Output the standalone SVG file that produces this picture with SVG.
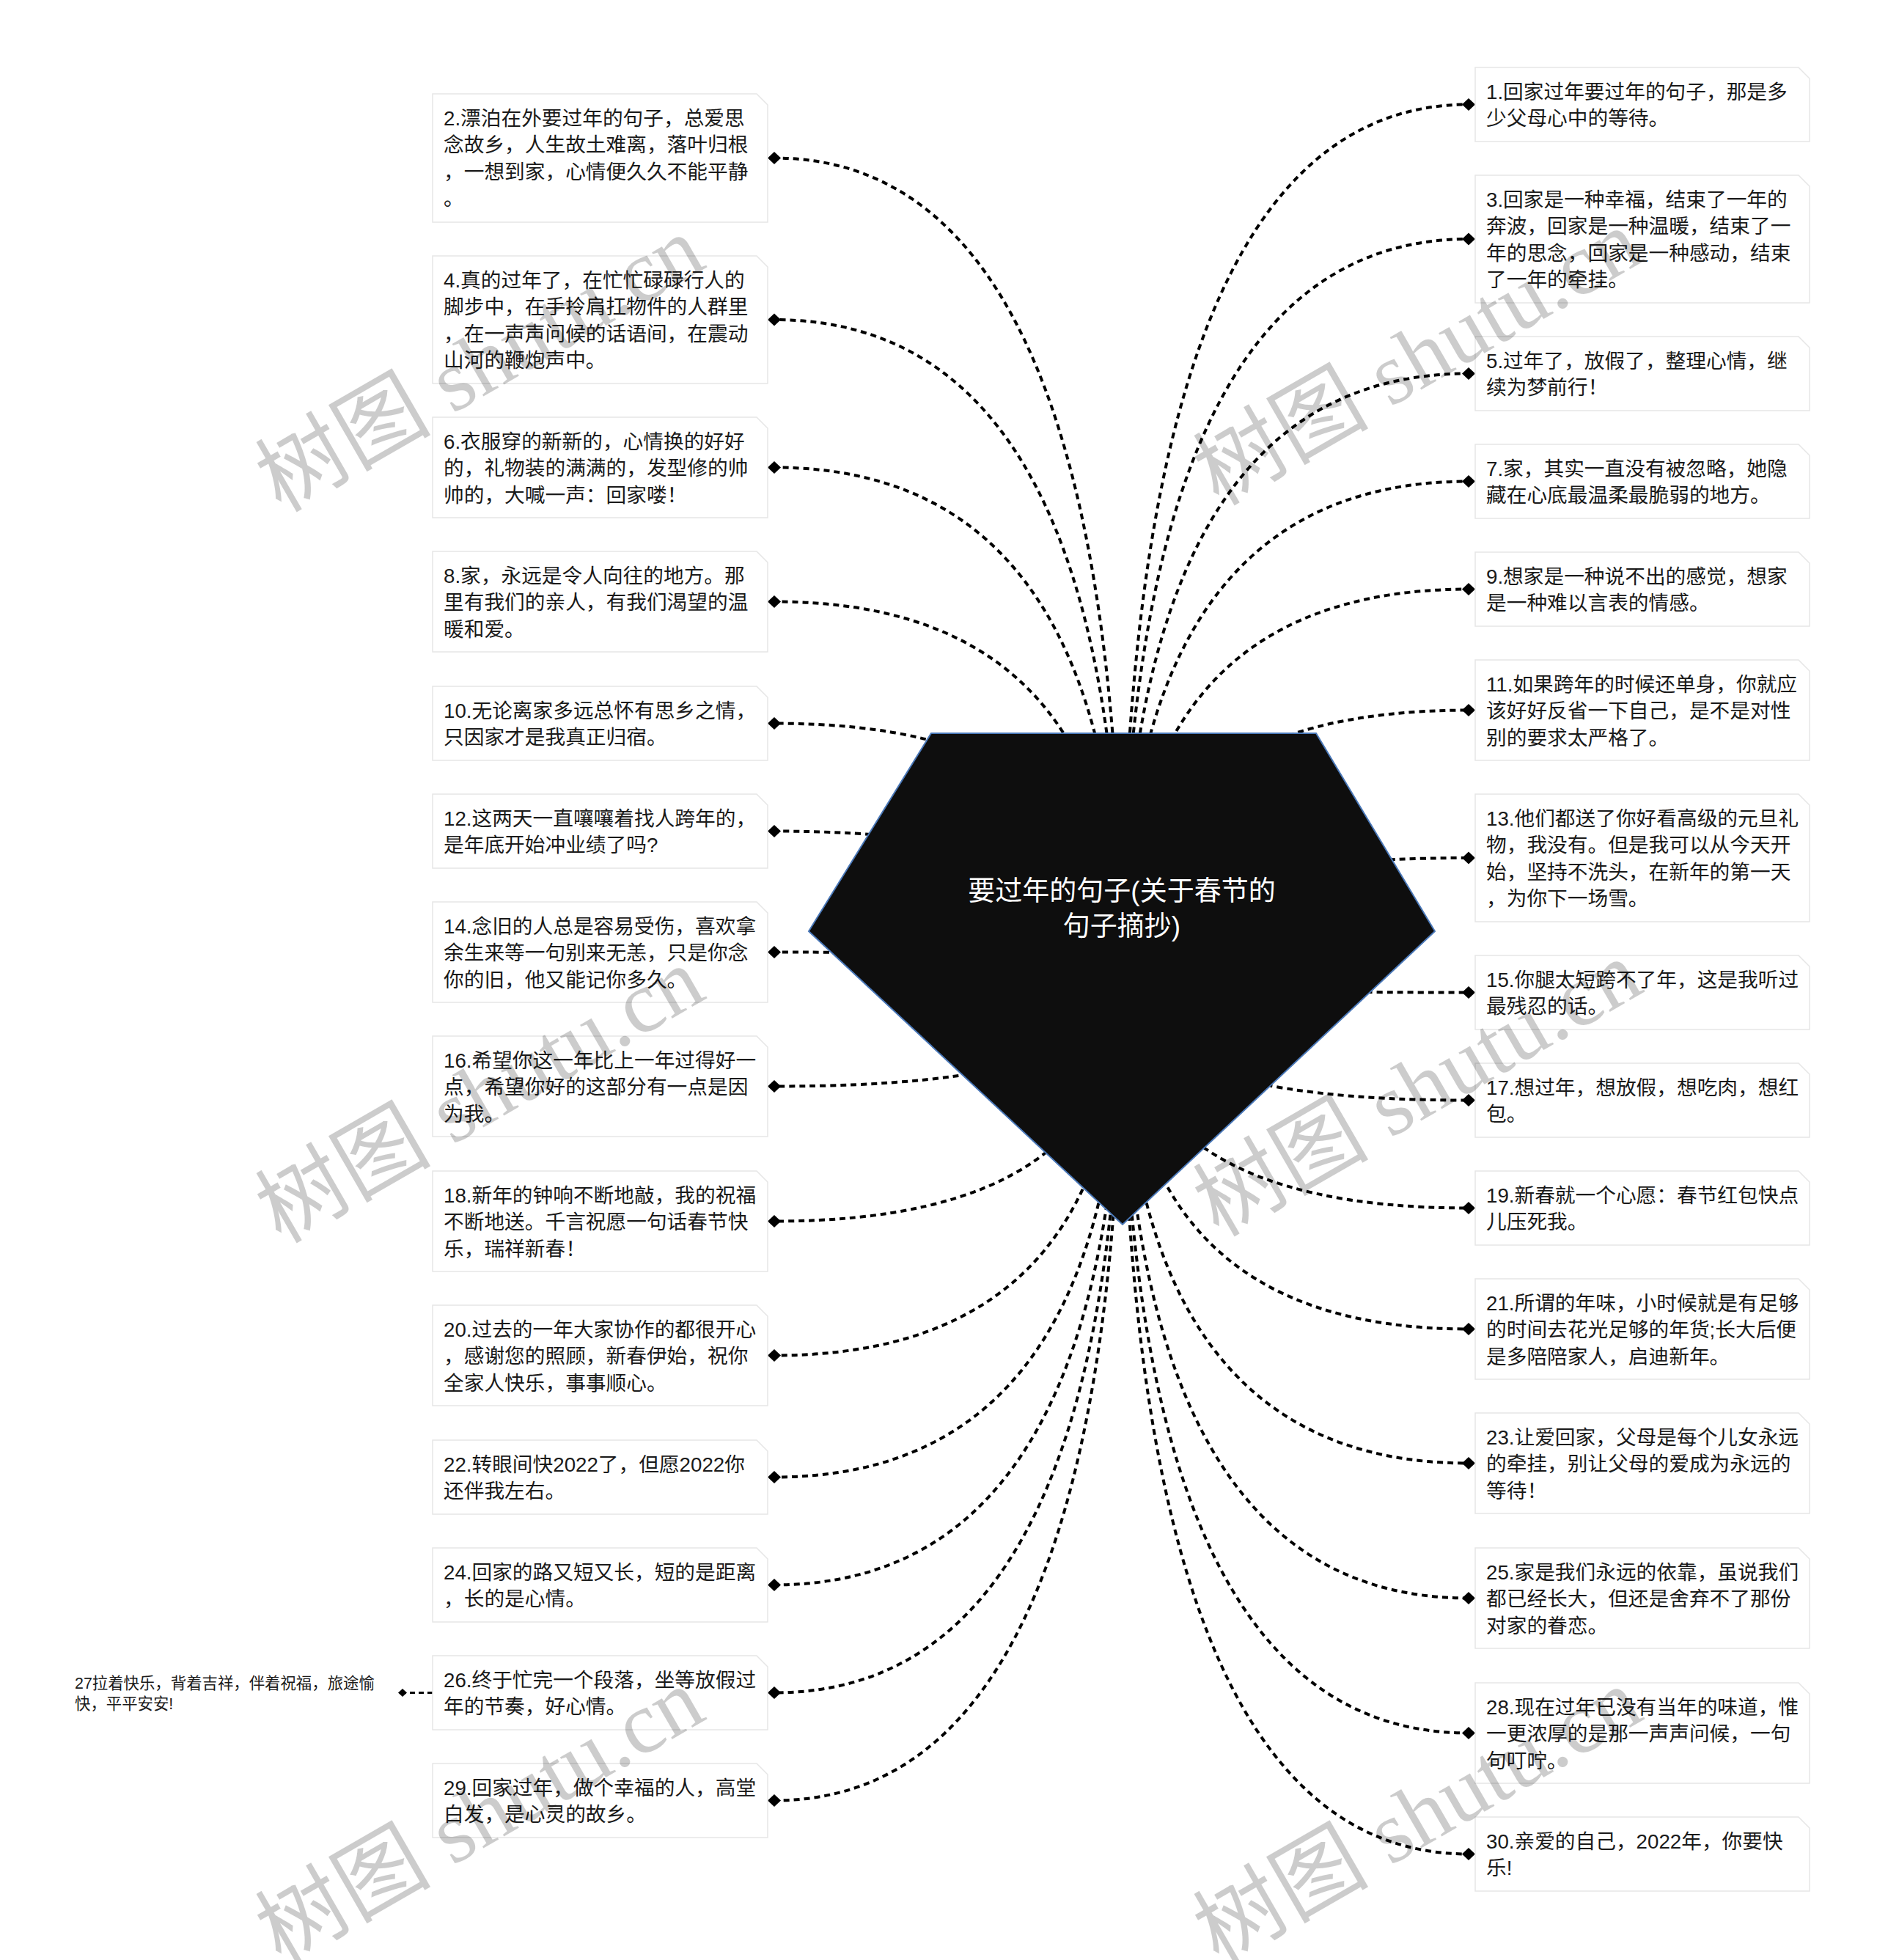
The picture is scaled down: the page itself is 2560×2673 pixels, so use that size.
<svg xmlns="http://www.w3.org/2000/svg" xmlns:xlink="http://www.w3.org/1999/xlink" width="2560" height="2673" viewBox="0 0 2560 2673">
<style>
.box{fill:#fff;stroke:#e6e6e6;stroke-width:1.5}
.t{font-family:"Liberation Sans","Noto Sans CJK SC",sans-serif;font-size:27.7px;fill:#1a1a1a}
.ct{font-family:"Liberation Sans","Noto Sans CJK SC",sans-serif;font-size:37px;fill:#fff;text-anchor:middle}
.t27{font-family:"Liberation Sans","Noto Sans CJK SC",sans-serif;font-size:21.4px;fill:#1a1a1a}
.conn{fill:none;stroke:#000;stroke-width:4;stroke-dasharray:8 6}
.conn2{fill:none;stroke:#000;stroke-width:3;stroke-dasharray:7 5}
.wm{font-family:"Liberation Serif","Noto Sans CJK SC",serif;font-size:120px;fill:#000;fill-opacity:0.2}
</style>
<defs>
<path id="dm" d="M-9 0 L0 -8.5 L9 0 L0 8.5 Z" fill="#000"/>
<path id="dms" d="M-6 0 L0 -5.5 L6 0 L0 5.5 Z" fill="#000"/>
</defs>
<rect width="2560" height="2673" fill="#fff"/>
<g id="connectors">
<path class="conn" d="M1530 1335 Q1530 215.5 1056 215.5"/>
<path class="conn" d="M1530 1335 Q1530 436 1056 436"/>
<path class="conn" d="M1530 1335 Q1530 637.5 1056 637.5"/>
<path class="conn" d="M1530 1335 Q1530 820.5 1056 820.5"/>
<path class="conn" d="M1530 1335 Q1530 986.5 1056 986.5"/>
<path class="conn" d="M1530 1335 Q1530 1133.5 1056 1133.5"/>
<path class="conn" d="M1530 1335 Q1530 1298.5 1056 1298.5"/>
<path class="conn" d="M1530 1335 Q1530 1481.5 1056 1481.5"/>
<path class="conn" d="M1530 1335 Q1530 1665.5 1056 1665.5"/>
<path class="conn" d="M1530 1335 Q1530 1848.5 1056 1848.5"/>
<path class="conn" d="M1530 1335 Q1530 2014.5 1056 2014.5"/>
<path class="conn" d="M1530 1335 Q1530 2161.5 1056 2161.5"/>
<path class="conn" d="M1530 1335 Q1530 2308.5 1056 2308.5"/>
<path class="conn" d="M1530 1335 Q1530 2455.5 1056 2455.5"/>
<path class="conn" d="M1530 1335 Q1530 142.5 2003 142.5"/>
<path class="conn" d="M1530 1335 Q1530 326 2003 326"/>
<path class="conn" d="M1530 1335 Q1530 509.5 2003 509.5"/>
<path class="conn" d="M1530 1335 Q1530 656.5 2003 656.5"/>
<path class="conn" d="M1530 1335 Q1530 803.5 2003 803.5"/>
<path class="conn" d="M1530 1335 Q1530 968.5 2003 968.5"/>
<path class="conn" d="M1530 1335 Q1530 1170 2003 1170"/>
<path class="conn" d="M1530 1335 Q1530 1353.5 2003 1353.5"/>
<path class="conn" d="M1530 1335 Q1530 1500.5 2003 1500.5"/>
<path class="conn" d="M1530 1335 Q1530 1647.5 2003 1647.5"/>
<path class="conn" d="M1530 1335 Q1530 1812.5 2003 1812.5"/>
<path class="conn" d="M1530 1335 Q1530 1995.5 2003 1995.5"/>
<path class="conn" d="M1530 1335 Q1530 2179.5 2003 2179.5"/>
<path class="conn" d="M1530 1335 Q1530 2363.5 2003 2363.5"/>
<path class="conn" d="M1530 1335 Q1530 2528.5 2003 2528.5"/>
<path class="conn2" d="M590 2308.5 L549 2308.5"/>
<use xlink:href="#dm" x="1056" y="215.5"/>
<use xlink:href="#dm" x="1056" y="436"/>
<use xlink:href="#dm" x="1056" y="637.5"/>
<use xlink:href="#dm" x="1056" y="820.5"/>
<use xlink:href="#dm" x="1056" y="986.5"/>
<use xlink:href="#dm" x="1056" y="1133.5"/>
<use xlink:href="#dm" x="1056" y="1298.5"/>
<use xlink:href="#dm" x="1056" y="1481.5"/>
<use xlink:href="#dm" x="1056" y="1665.5"/>
<use xlink:href="#dm" x="1056" y="1848.5"/>
<use xlink:href="#dm" x="1056" y="2014.5"/>
<use xlink:href="#dm" x="1056" y="2161.5"/>
<use xlink:href="#dm" x="1056" y="2308.5"/>
<use xlink:href="#dm" x="1056" y="2455.5"/>
<use xlink:href="#dm" x="2003" y="142.5"/>
<use xlink:href="#dm" x="2003" y="326"/>
<use xlink:href="#dm" x="2003" y="509.5"/>
<use xlink:href="#dm" x="2003" y="656.5"/>
<use xlink:href="#dm" x="2003" y="803.5"/>
<use xlink:href="#dm" x="2003" y="968.5"/>
<use xlink:href="#dm" x="2003" y="1170"/>
<use xlink:href="#dm" x="2003" y="1353.5"/>
<use xlink:href="#dm" x="2003" y="1500.5"/>
<use xlink:href="#dm" x="2003" y="1647.5"/>
<use xlink:href="#dm" x="2003" y="1812.5"/>
<use xlink:href="#dm" x="2003" y="1995.5"/>
<use xlink:href="#dm" x="2003" y="2179.5"/>
<use xlink:href="#dm" x="2003" y="2363.5"/>
<use xlink:href="#dm" x="2003" y="2528.5"/>
<use xlink:href="#dms" x="549" y="2308.5"/>
</g>
<g id="center">
<path d="M1270 1000 L1795 1000 L1957 1270 L1531 1670 L1103 1270 Z" fill="#0e0e0e" stroke="#4a78b8" stroke-width="2"/>
<text class="ct"><tspan x="1530" y="1228">要过年的句子(关于春节的</tspan><tspan x="1530" y="1276">句子摘抄)</tspan></text>
</g>
<g id="n2"><path class="box" d="M590 128 H1032 L1047 143 V303 H590 Z"/><text class="t"><tspan x="605" y="170.5">2.漂泊在外要过年的句子，总爱思</tspan><tspan x="605" y="207">念故乡，人生故土难离，落叶归根</tspan><tspan x="605" y="243.5">，一想到家，心情便久久不能平静</tspan><tspan x="605" y="280">。</tspan></text></g>
<g id="n4"><path class="box" d="M590 349 H1032 L1047 364 V523 H590 Z"/><text class="t"><tspan x="605" y="391.5">4.真的过年了，在忙忙碌碌行人的</tspan><tspan x="605" y="428">脚步中，在手拎肩扛物件的人群里</tspan><tspan x="605" y="464.5">，在一声声问候的话语间，在震动</tspan><tspan x="605" y="501">山河的鞭炮声中。</tspan></text></g>
<g id="n6"><path class="box" d="M590 569 H1032 L1047 584 V706 H590 Z"/><text class="t"><tspan x="605" y="611.5">6.衣服穿的新新的，心情换的好好</tspan><tspan x="605" y="648">的，礼物装的满满的，发型修的帅</tspan><tspan x="605" y="684.5">帅的，大喊一声：回家喽！</tspan></text></g>
<g id="n8"><path class="box" d="M590 752 H1032 L1047 767 V889 H590 Z"/><text class="t"><tspan x="605" y="794.5">8.家，永远是令人向往的地方。那</tspan><tspan x="605" y="831">里有我们的亲人，有我们渴望的温</tspan><tspan x="605" y="867.5">暖和爱。</tspan></text></g>
<g id="n10"><path class="box" d="M590 936 H1032 L1047 951 V1037 H590 Z"/><text class="t"><tspan x="605" y="978.5">10.无论离家多远总怀有思乡之情，</tspan><tspan x="605" y="1015">只因家才是我真正归宿。</tspan></text></g>
<g id="n12"><path class="box" d="M590 1083 H1032 L1047 1098 V1184 H590 Z"/><text class="t"><tspan x="605" y="1125.5">12.这两天一直嚷嚷着找人跨年的，</tspan><tspan x="605" y="1162">是年底开始冲业绩了吗?</tspan></text></g>
<g id="n14"><path class="box" d="M590 1230 H1032 L1047 1245 V1367 H590 Z"/><text class="t"><tspan x="605" y="1272.5">14.念旧的人总是容易受伤，喜欢拿</tspan><tspan x="605" y="1309">余生来等一句别来无恙，只是你念</tspan><tspan x="605" y="1345.5">你的旧，他又能记你多久。</tspan></text></g>
<g id="n16"><path class="box" d="M590 1413 H1032 L1047 1428 V1550 H590 Z"/><text class="t"><tspan x="605" y="1455.5">16.希望你这一年比上一年过得好一</tspan><tspan x="605" y="1492">点，希望你好的这部分有一点是因</tspan><tspan x="605" y="1528.5">为我。</tspan></text></g>
<g id="n18"><path class="box" d="M590 1597 H1032 L1047 1612 V1734 H590 Z"/><text class="t"><tspan x="605" y="1639.5">18.新年的钟响不断地敲，我的祝福</tspan><tspan x="605" y="1676">不断地送。千言祝愿一句话春节快</tspan><tspan x="605" y="1712.5">乐，瑞祥新春！</tspan></text></g>
<g id="n20"><path class="box" d="M590 1780 H1032 L1047 1795 V1917 H590 Z"/><text class="t"><tspan x="605" y="1822.5">20.过去的一年大家协作的都很开心</tspan><tspan x="605" y="1859">，感谢您的照顾，新春伊始，祝你</tspan><tspan x="605" y="1895.5">全家人快乐，事事顺心。</tspan></text></g>
<g id="n22"><path class="box" d="M590 1964 H1032 L1047 1979 V2065 H590 Z"/><text class="t"><tspan x="605" y="2006.5">22.转眼间快2022了，但愿2022你</tspan><tspan x="605" y="2043">还伴我左右。</tspan></text></g>
<g id="n24"><path class="box" d="M590 2111 H1032 L1047 2126 V2212 H590 Z"/><text class="t"><tspan x="605" y="2153.5">24.回家的路又短又长，短的是距离</tspan><tspan x="605" y="2190">，长的是心情。</tspan></text></g>
<g id="n26"><path class="box" d="M590 2258 H1032 L1047 2273 V2359 H590 Z"/><text class="t"><tspan x="605" y="2300.5">26.终于忙完一个段落，坐等放假过</tspan><tspan x="605" y="2337">年的节奏，好心情。</tspan></text></g>
<g id="n29"><path class="box" d="M590 2405 H1032 L1047 2420 V2506 H590 Z"/><text class="t"><tspan x="605" y="2447.5">29.回家过年，做个幸福的人，高堂</tspan><tspan x="605" y="2484">白发，是心灵的故乡。</tspan></text></g>
<g id="n27"><text class="t27"><tspan x="102" y="2303">27拉着快乐，背着吉祥，伴着祝福，旅途愉</tspan><tspan x="102" y="2331">快，平平安安!</tspan></text></g>
<g id="n1"><path class="box" d="M2012 92 H2453 L2468 107 V193 H2012 Z"/><text class="t"><tspan x="2027" y="134.5">1.回家过年要过年的句子，那是多</tspan><tspan x="2027" y="171">少父母心中的等待。</tspan></text></g>
<g id="n3"><path class="box" d="M2012 239 H2453 L2468 254 V413 H2012 Z"/><text class="t"><tspan x="2027" y="281.5">3.回家是一种幸福，结束了一年的</tspan><tspan x="2027" y="318">奔波，回家是一种温暖，结束了一</tspan><tspan x="2027" y="354.5">年的思念，回家是一种感动，结束</tspan><tspan x="2027" y="391">了一年的牵挂。</tspan></text></g>
<g id="n5"><path class="box" d="M2012 459 H2453 L2468 474 V560 H2012 Z"/><text class="t"><tspan x="2027" y="501.5">5.过年了，放假了，整理心情，继</tspan><tspan x="2027" y="538">续为梦前行！</tspan></text></g>
<g id="n7"><path class="box" d="M2012 606 H2453 L2468 621 V707 H2012 Z"/><text class="t"><tspan x="2027" y="648.5">7.家，其实一直没有被忽略，她隐</tspan><tspan x="2027" y="685">藏在心底最温柔最脆弱的地方。</tspan></text></g>
<g id="n9"><path class="box" d="M2012 753 H2453 L2468 768 V854 H2012 Z"/><text class="t"><tspan x="2027" y="795.5">9.想家是一种说不出的感觉，想家</tspan><tspan x="2027" y="832">是一种难以言表的情感。</tspan></text></g>
<g id="n11"><path class="box" d="M2012 900 H2453 L2468 915 V1037 H2012 Z"/><text class="t"><tspan x="2027" y="942.5">11.如果跨年的时候还单身，你就应</tspan><tspan x="2027" y="979">该好好反省一下自己，是不是对性</tspan><tspan x="2027" y="1015.5">别的要求太严格了。</tspan></text></g>
<g id="n13"><path class="box" d="M2012 1083 H2453 L2468 1098 V1257 H2012 Z"/><text class="t"><tspan x="2027" y="1125.5">13.他们都送了你好看高级的元旦礼</tspan><tspan x="2027" y="1162">物，我没有。但是我可以从今天开</tspan><tspan x="2027" y="1198.5">始，坚持不洗头，在新年的第一天</tspan><tspan x="2027" y="1235">，为你下一场雪。</tspan></text></g>
<g id="n15"><path class="box" d="M2012 1303 H2453 L2468 1318 V1404 H2012 Z"/><text class="t"><tspan x="2027" y="1345.5">15.你腿太短跨不了年，这是我听过</tspan><tspan x="2027" y="1382">最残忍的话。</tspan></text></g>
<g id="n17"><path class="box" d="M2012 1450 H2453 L2468 1465 V1551 H2012 Z"/><text class="t"><tspan x="2027" y="1492.5">17.想过年，想放假，想吃肉，想红</tspan><tspan x="2027" y="1529">包。</tspan></text></g>
<g id="n19"><path class="box" d="M2012 1597 H2453 L2468 1612 V1698 H2012 Z"/><text class="t"><tspan x="2027" y="1639.5">19.新春就一个心愿：春节红包快点</tspan><tspan x="2027" y="1676">儿压死我。</tspan></text></g>
<g id="n21"><path class="box" d="M2012 1744 H2453 L2468 1759 V1881 H2012 Z"/><text class="t"><tspan x="2027" y="1786.5">21.所谓的年味，小时候就是有足够</tspan><tspan x="2027" y="1823">的时间去花光足够的年货;长大后便</tspan><tspan x="2027" y="1859.5">是多陪陪家人，启迪新年。</tspan></text></g>
<g id="n23"><path class="box" d="M2012 1927 H2453 L2468 1942 V2064 H2012 Z"/><text class="t"><tspan x="2027" y="1969.5">23.让爱回家，父母是每个儿女永远</tspan><tspan x="2027" y="2006">的牵挂，别让父母的爱成为永远的</tspan><tspan x="2027" y="2042.5">等待！</tspan></text></g>
<g id="n25"><path class="box" d="M2012 2111 H2453 L2468 2126 V2248 H2012 Z"/><text class="t"><tspan x="2027" y="2153.5">25.家是我们永远的依靠，虽说我们</tspan><tspan x="2027" y="2190">都已经长大，但还是舍弃不了那份</tspan><tspan x="2027" y="2226.5">对家的眷恋。</tspan></text></g>
<g id="n28"><path class="box" d="M2012 2295 H2453 L2468 2310 V2432 H2012 Z"/><text class="t"><tspan x="2027" y="2337.5">28.现在过年已没有当年的味道，惟</tspan><tspan x="2027" y="2374">一更浓厚的是那一声声问候，一句</tspan><tspan x="2027" y="2410.5">句叮咛。</tspan></text></g>
<g id="n30"><path class="box" d="M2012 2478 H2453 L2468 2493 V2579 H2012 Z"/><text class="t"><tspan x="2027" y="2520.5">30.亲爱的自己，2022年，你要快</tspan><tspan x="2027" y="2557">乐!</tspan></text></g>
<g id="watermarks">
<text class="wm" transform="translate(383 700) rotate(-30)">树图 shutu.cn</text>
<text class="wm" transform="translate(1662 691) rotate(-30)">树图 shutu.cn</text>
<text class="wm" transform="translate(383 1697) rotate(-30)">树图 shutu.cn</text>
<text class="wm" transform="translate(1662 1688) rotate(-30)">树图 shutu.cn</text>
<text class="wm" transform="translate(383 2680) rotate(-30)">树图 shutu.cn</text>
<text class="wm" transform="translate(1662 2680) rotate(-30)">树图 shutu.cn</text>
</g>
</svg>
